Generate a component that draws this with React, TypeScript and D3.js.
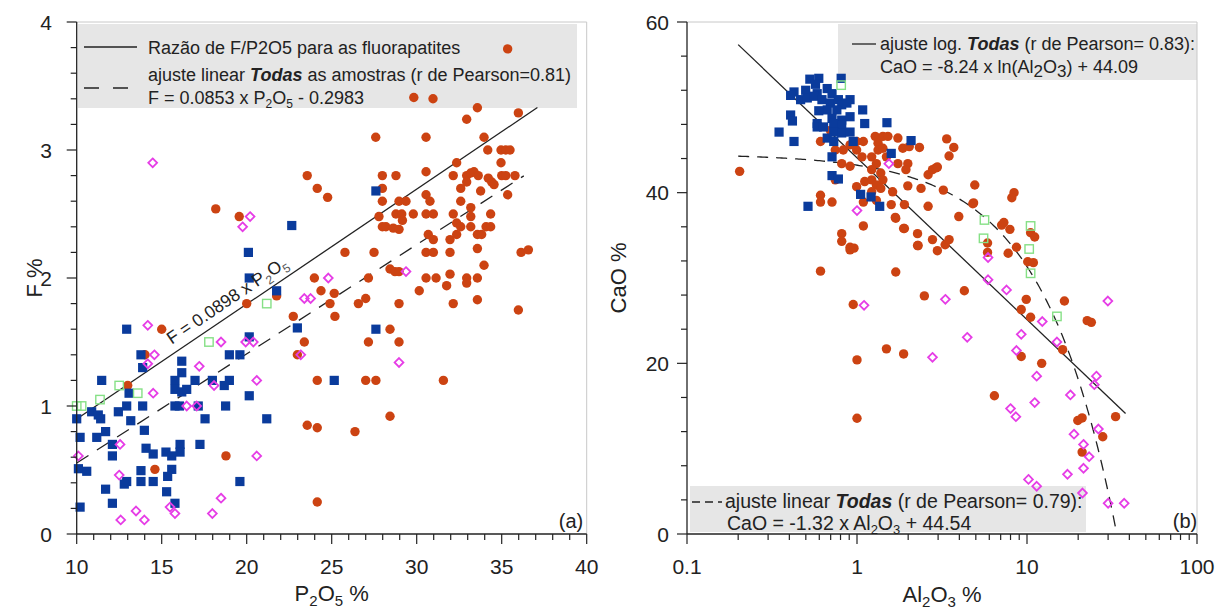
import React from "react";
import * as d3 from "d3";

// ---------- Panel (a): F % vs P2O5 % ----------
const aBlue: [number, number][] = [
  [12.94,1.60],[13.78,1.40],[13.88,1.30],[11.47,1.20],[16.18,1.35],[16.18,1.26],[15.78,1.20],[15.78,1.13],
  [16.18,1.11],[16.47,1.13],[16.96,1.20],[17.98,1.20],[18.98,1.20],[18.68,1.16],[18.98,1.40],[19.6,1.40],
  [20.15,1.54],[22.98,1.61],[10.0,0.90],[10.88,0.955],[11.27,0.93],[11.41,0.90],[10.2,0.755],[11.18,0.755],
  [11.7,0.80],[12.45,0.955],[12.94,1.00],[13.08,1.10],[13.18,0.885],[13.88,1.00],[13.98,0.81],[14.08,0.67],
  [14.5,0.625],[12.1,0.70],[12.1,0.61],[10.1,0.51],[10.59,0.49],[13.78,0.495],[13.78,0.41],[12.94,0.41],
  [12.8,0.39],[14.5,0.41],[11.7,0.35],[12.1,0.24],[10.2,0.21],[15.25,0.64],[15.59,0.61],[16.08,0.70],
  [16.08,0.64],[15.59,0.505],[15.35,0.45],[15.29,0.33],[15.78,0.24],[15.78,1.00],[16.04,1.00],[17.25,0.70],
  [17.55,0.90],[18.76,1.00],[19.6,0.41],[20.15,1.08],[21.18,0.90],[17.15,1.00],[20.1,2.20],[20.15,2.00],
  [21.76,1.90],[22.65,2.41],[27.6,2.68],[27.6,1.60],[25.15,1.20]
];
const aGreen: [number, number][] = [
  [10.0,1.00],[10.29,1.00],[11.37,1.05],[12.5,1.16],[13.59,1.10],[17.78,1.50],[21.18,1.80]
];
const aMagenta: [number, number][] = [
  [14.47,2.90],[19.76,2.40],[20.2,2.48],[14.18,1.63],[14.57,1.40],[14.18,1.33],[14.5,1.10],[18.49,1.50],
  [19.94,1.50],[20.39,1.50],[17.21,1.31],[18.08,1.16],[20.59,1.20],[16.47,1.00],[17.06,1.00],[10.1,0.61],
  [12.55,0.70],[20.59,0.61],[12.5,0.46],[18.49,0.28],[13.49,0.18],[13.98,0.11],[12.59,0.11],[15.49,0.21],
  [15.78,0.16],[17.98,0.16],[23.18,1.40],[23.39,1.84],[23.76,1.84],[24.8,2.0],[29.37,2.05],[28.96,1.34]
];
const aOrange: [number, number][] = [
  [15.0,1.60],[14.02,1.40],[13.0,1.16],[14.6,0.505],[18.78,0.61],[22.74,1.70],[23.39,1.50],[22.98,1.40],
  [24.15,1.20],[23.56,0.85],[24.15,0.83],[24.15,0.25],[20.0,1.80],[24.9,1.80],[25.19,1.70],
  [18.18,2.54],[19.56,2.48],[23.56,2.80],[24.15,2.70],[24.76,2.63],[23.98,2.0],[24.37,1.90],[25.15,1.88],[21.76,1.86],
  [33.57,3.33],[32.94,3.24],[35.98,3.29],[27.59,3.10],[30.55,3.10],[33.96,3.10],[34.18,3.0],[34.96,3.0],
  [35.24,3.0],[35.49,3.0],[34.96,2.90],[32.35,2.90],[27.98,2.80],[28.78,2.80],[30.55,2.83],[32.15,2.80],
  [32.94,2.80],[33.18,2.82],[33.37,2.83],[33.62,2.80],[34.21,2.78],[34.41,2.75],[34.55,2.73],[35.0,2.80],
  [35.24,2.80],[35.78,2.80],[32.94,2.75],[32.59,2.70],[33.76,2.68],[35.35,2.65],[27.98,2.70],[27.98,2.60],
  [28.96,2.60],[29.37,2.60],[30.55,2.65],[30.78,2.60],[32.59,2.60],[27.78,2.48],[28.78,2.50],[29.12,2.50],
  [29.8,2.50],[30.55,2.50],[30.98,2.50],[32.15,2.50],[33.18,2.55],[33.18,2.48],[34.35,2.50],[29.16,2.45],
  [27.98,2.40],[28.19,2.40],[28.62,2.39],[28.96,2.38],[32.35,2.43],[32.59,2.40],[33.18,2.40],[34.08,2.40],
  [34.35,2.40],[30.68,2.34],[30.98,2.30],[32.35,2.34],[31.96,2.30],[33.57,2.34],[33.82,2.34],[33.57,2.23],
  [25.78,2.20],[27.49,2.20],[30.55,2.20],[30.98,2.20],[31.96,2.20],[36.14,2.20],[36.57,2.22],[33.96,2.10],
  [28.43,2.07],[28.72,2.05],[28.96,2.05],[31.96,2.03],[27.16,2.0],[30.55,2.0],[31.14,2.0],[32.94,2.0],
  [33.57,2.0],[31.76,1.94],[32.94,1.96],[30.15,1.90],[27.0,1.84],[26.57,1.80],[28.96,1.80],[32.15,1.80],
  [33.57,1.83],[35.98,1.75],[28.43,1.60],[27.16,1.50],[28.96,1.50],[27.0,1.20],[27.6,1.20],[31.57,1.20],
  [26.37,0.80],[28.43,0.92],[35.35,3.79],[29.83,3.41],[30.96,3.40]
];

// ---------- Panel (b): CaO % vs Al2O3 % ----------
const bBlue: [number, number][] = [
  [0.807,53.4],[0.528,53.3],[0.596,53.4],[0.57,52.7],[0.426,51.8],[0.499,52.0],[0.583,51.6],[0.668,52.2],
  [0.713,51.6],[0.407,51.4],[0.466,50.9],[0.51,51.1],[0.557,51.3],[0.622,50.9],[0.697,50.5],[0.777,50.9],
  [0.91,50.9],[0.813,50.3],[0.872,50.5],[0.668,49.7],[0.761,49.7],[0.596,49.6],[1.08,49.7],[0.407,49.1],
  [0.417,48.4],[0.713,48.7],[0.813,48.5],[0.91,48.9],[0.583,48.1],[0.73,48.1],[0.813,47.9],[1.11,48.1],
  [1.5,48.2],[0.348,47.1],[0.583,47.7],[0.636,47.7],[0.73,47.1],[0.813,47.0],[0.91,47.1],[0.668,46.4],
  [0.73,46.0],[0.426,46.0],[0.95,46.0],[2.08,46.1],[1.59,44.6],[0.713,44.2],[0.713,42.0],[0.777,41.6],
  [1.05,39.8],[1.21,39.5],[1.36,38.4],[0.515,38.4]
];
const bGreen: [number, number][] = [
  [0.807,52.6],[5.62,36.8],[5.55,34.65],[10.5,36.1],[10.3,33.4],[10.5,30.55],[15.0,25.5]
];
const bMagenta: [number, number][] = [
  [1.54,43.4],[1.0,37.9],[5.9,32.4],[5.9,29.8],[7.58,28.6],[3.31,27.5],[1.1,26.8],[4.45,23.05],
  [2.78,20.7],[12.3,24.9],[9.25,23.4],[8.67,21.5],[29.9,27.3],[15,22.5],[25.6,18.5],[24.9,17.5],
  [11.4,18.5],[18.0,16.3],[11.1,15.4],[8.0,14.7],[8.6,13.75],[18.9,11.7],[26.3,12.3],[21.5,10.5],
  [23.2,9.06],[21.5,7.7],[17.3,7.0],[10.2,6.4],[11.4,5.6],[21.2,4.8],[30.0,3.6],[37.3,3.6]
];
const bOrange: [number, number][] = [
  [0.204,42.5],[0.61,46.0],[0.697,47.3],[0.745,45.0],[0.83,45.0],[0.91,45.6],[0.995,46.0],[1.09,46.0],
  [0.995,45.0],[1.07,44.2],[1.28,46.6],[1.33,45.8],[1.42,46.6],[1.52,46.6],[1.33,45.0],[1.42,45.2],
  [1.49,44.2],[1.22,44.2],[1.3,43.4],[1.74,46.4],[1.86,45.2],[2.03,45.4],[2.33,45.3],[1.74,43.4],
  [1.99,43.4],[1.94,42.7],[0.813,43.4],[0.91,43.1],[1.22,42.7],[1.38,42.3],[0.995,40.7],[1.11,41.3],
  [1.22,41.5],[1.3,40.9],[1.42,41.5],[1.38,40.5],[1.22,40.1],[1.62,40.1],[1.99,40.8],[2.38,40.5],
  [2.62,42.1],[2.78,42.7],[2.91,42.9],[0.745,41.5],[0.61,39.7],[0.61,38.9],[0.713,38.9],[1.09,38.9],
  [1.3,39.1],[1.59,38.6],[1.9,38.6],[2.62,38.4],[1.69,37.0],[1.09,36.1],[1.9,35.8],[2.27,35.2],
  [2.78,34.5],[0.813,35.2],[0.813,34.3],[0.91,33.6],[2.27,33.8],[2.97,33.2],
  [3.37,46.3],[3.71,45.3],[3.48,44.3],[2.97,43.0],[4.93,40.9],[3.22,40.3],[4.85,38.8],[8.39,40.0],[8.14,39.4],
  [1.68,37.1],[1.88,35.8],[2.29,33.8],[3.3,33.9],[3.48,34.5],[3.97,37.2],[4.8,38.7],[1.69,30.7],
  [0.95,26.9],[2.49,27.9],[4.28,28.5],[1.49,21.7],[1.88,21.1],[1.0,20.4],[1.0,13.56],[6.43,16.2],
  [7.09,36.2],[7.31,36.5],[7.93,35.7],[5.86,34.1],[5.86,33.0],[7.75,32.9],[8.67,33.6],[10.5,35.3],
  [11.1,34.8],[10.1,31.9],[10.9,31.8],[9.9,27.5],[9.25,26.3],[10.5,25.4],[16.6,27.3],[22.6,25.0],
  [23.9,24.8],[9.25,20.8],[12.2,20.0],[16.2,21.6],[19.9,13.3],[21.1,13.6],[27.9,11.4],[33.2,13.75],
  [21.1,9.6],[0.61,30.8],[0.91,33.3],[0.96,33.5]
];

// Tick values
const aXTicks = [10, 15, 20, 25, 30, 35, 40];
const aYTicks = [0, 1, 2, 3, 4];
const bXTicks = [0.1, 1, 10, 100];
const bXTickLabels = ["0.1", "1", "10", "100"];
const bYTicks = [0, 20, 40, 60];

const FONT = "'Liberation Sans', Arial, Helvetica, sans-serif";
const C_BLUE = "#0a3b9c";
const C_ORANGE = "#cc4312";
const C_MAG = "#e63de6";
const C_GREEN = "#86e086";

type Sc = (v: number) => number;

function Markers({ data, x, y, kind }: { data: [number, number][]; x: Sc; y: Sc; kind: string }) {
  return (
    <g>
      {data.map((d, i) => {
        const cx = x(d[0]);
        const cy = y(d[1]);
        if (kind === "circle") return <circle key={i} cx={cx} cy={cy} r={4.7} fill={C_ORANGE} />;
        if (kind === "square")
          return <rect key={i} x={cx - 4.6} y={cy - 4.6} width={9.2} height={9.2} fill={C_BLUE} />;
        if (kind === "diamond")
          return (
            <path
              key={i}
              d={`M${cx},${cy - 4.4}L${cx + 4.4},${cy}L${cx},${cy + 4.4}L${cx - 4.4},${cy}Z`}
              fill="none"
              stroke={C_MAG}
              strokeWidth={1.8}
            />
          );
        return (
          <rect key={i} x={cx - 4.2} y={cy - 4.2} width={8.4} height={8.4} fill="none" stroke={C_GREEN} strokeWidth={1.4} />
        );
      })}
    </g>
  );
}

export default function App() {
  // Panel a scales
  const xA = d3.scaleLinear().domain([10, 40]).range([76.7, 586.7]);
  const yA = d3.scaleLinear().domain([0, 4]).range([534, 22]);
  // Panel b scales
  const xB = d3.scaleLog().domain([0.1, 100]).range([687, 1197]);
  const yB = d3.scaleLinear().domain([0, 60]).range([534, 22]);

  const lineA = d3.line<number>().x((v) => xA(v)).y((v) => yA(0.0898 * v));
  const lineA2 = d3.line<number>().x((v) => xA(v)).y((v) => yA(0.0853 * v - 0.2983));
  const lineB = d3.line<number>().x((v) => xB(v)).y((v) => yB(-8.24 * Math.log(v) + 44.09));
  const lineB2 = d3.line<number>().x((v) => xB(v)).y((v) => yB(-1.32 * v + 44.54));

  const bLinX = d3.range(0, 201).map((i) => 0.2 * Math.pow(33.74 / 0.2, i / 200));

  const aXMinor = d3.range(10, 40.5, 1);
  const aYMinor = d3.range(0, 4.01, 0.2);
  const bYMinor = d3.range(0, 61, 4);
  const bXMinor: number[] = [];
  [0.1, 1, 10].forEach((dec) => {
    for (let k = 1; k <= 9; k++) bXMinor.push(dec * k);
  });
  bXMinor.push(100);

  const angle = (Math.atan2(yA(0.0898 * 20) - yA(0.0898 * 10), xA(20) - xA(10)) * 180) / Math.PI;

  const tickFs = 21;
  const legFs = 18;
  const legFsB = 19.5;

  return (
    <svg
      width={1217}
      height={610}
      style={{ position: "absolute", left: 0, top: 0, background: "#fff" }}
      fontFamily={FONT}
    >
      <rect x={0} y={0} width={1217} height={610} fill="#fff" />

      {/* ================= Panel (a) ================= */}
      <g>
        {/* legend box */}
        <rect x={78} y={24} width={499} height={84} fill="#e6e6e6" />
        {/* frame */}
        <line x1={xA(10)} y1={22} x2={xA(40)} y2={22} stroke="#c8c8c8" strokeWidth={1} />
        <line x1={xA(40)} y1={22} x2={xA(40)} y2={534} stroke="#c8c8c8" strokeWidth={1} />

        {/* fit lines */}
        <path d={lineA([10, 37.1]) || ""} fill="none" stroke="#222" strokeWidth={1.3} />
        <path d={lineA2([10, 36.3]) || ""} fill="none" stroke="#222" strokeWidth={1.3} strokeDasharray="14 10" />

        <Markers data={aOrange} x={xA} y={yA} kind="circle" />
        <Markers data={aBlue} x={xA} y={yA} kind="square" />
        <Markers data={aMagenta} x={xA} y={yA} kind="diamond" />
        <Markers data={aGreen} x={xA} y={yA} kind="green" />

        {/* rotated annotation */}
        <text
          transform={`translate(${xA(15.59)},${yA(0.0898 * 15.59) - 10}) rotate(${angle})`}
          fontSize={17.5}
          fill="#222"
        >
          F = 0.0898 x P<tspan fontSize={12} dy={5} fill="#555">2</tspan>
          <tspan dy={-5}>O</tspan>
          <tspan fontSize={12} dy={5} fill="#555">5</tspan>
        </text>

        {/* legend content */}
        <line x1={84} y1={47} x2={137} y2={47} stroke="#222" strokeWidth={1.3} />
        <line x1={84} y1={88} x2={137} y2={88} stroke="#222" strokeWidth={1.3} strokeDasharray="15 14" />
        <text x={148} y={54} fontSize={legFs} fill="#222">
          Razão de F/P2O5 para as fluorapatites
        </text>
        <text x={148} y={81} fontSize={legFs} fill="#222">
          ajuste linear <tspan fontWeight="bold" fontStyle="italic">Todas</tspan> as amostras (r de Pearson=0.81)
        </text>
        <text x={148} y={104} fontSize={legFs} fill="#222">
          F = 0.0853 x P<tspan fontSize={12} dy={4}>2</tspan>
          <tspan dy={-4}>O</tspan>
          <tspan fontSize={12} dy={4}>5</tspan>
          <tspan dy={-4}> - 0.2983</tspan>
        </text>

        {/* axes */}
        <line x1={xA(10)} y1={22} x2={xA(10)} y2={534} stroke="#222" strokeWidth={1.3} />
        <line x1={xA(10)} y1={534} x2={xA(40)} y2={534} stroke="#222" strokeWidth={1.3} />
        {aXMinor.map((v) => (
          <line key={"axm" + v} x1={xA(v)} x2={xA(v)} y1={534} y2={v % 5 === 0 ? 544 : 540} stroke="#222" strokeWidth={1.2} />
        ))}
        {aYMinor.map((v, i) => (
          <line key={"aym" + i} x1={xA(10)} x2={i % 5 === 0 ? xA(10) - 10 : xA(10) - 6} y1={yA(v)} y2={yA(v)} stroke="#222" strokeWidth={1.2} />
        ))}
        {aXTicks.map((v) => (
          <text key={"axt" + v} x={xA(v)} y={574} fontSize={tickFs} textAnchor="middle" fill="#222">
            {v}
          </text>
        ))}
        {aYTicks.map((v) => (
          <text key={"ayt" + v} x={52} y={yA(v) + 7.5} fontSize={tickFs} textAnchor="end" fill="#222">
            {v}
          </text>
        ))}
        <text x={(xA(10) + xA(40)) / 2} y={601} fontSize={22} textAnchor="middle" fill="#222">
          P<tspan fontSize={15} dy={5}>2</tspan>
          <tspan dy={-5}>O</tspan>
          <tspan fontSize={15} dy={5}>5</tspan>
          <tspan dy={-5}> %</tspan>
        </text>
        <text transform={`translate(42,${yA(2)}) rotate(-90)`} fontSize={22} textAnchor="middle" fill="#222">
          F %
        </text>
        <text x={571} y={528} fontSize={20} textAnchor="middle" fill="#222">
          (a)
        </text>
      </g>

      {/* ================= Panel (b) ================= */}
      <g>
        <rect x={838} y={24} width={359} height={56} fill="#e6e6e6" />
        <rect x={690} y={486} width={396} height={46} fill="#e6e6e6" />
        <line x1={xB(0.1)} y1={22} x2={xB(100)} y2={22} stroke="#c8c8c8" strokeWidth={1} />
        <line x1={xB(100)} y1={22} x2={xB(100)} y2={534} stroke="#c8c8c8" strokeWidth={1} />

        <path d={lineB([0.2, 38]) || ""} fill="none" stroke="#222" strokeWidth={1.3} />
        <path d={lineB2(bLinX) || ""} fill="none" stroke="#222" strokeWidth={1.3} strokeDasharray="11 8" />

        <Markers data={bOrange} x={xB} y={yB} kind="circle" />
        <Markers data={bBlue} x={xB} y={yB} kind="square" />
        <Markers data={bMagenta} x={xB} y={yB} kind="diamond" />
        <Markers data={bGreen} x={xB} y={yB} kind="green" />

        {/* legend top */}
        <line x1={852} y1={44} x2={876} y2={44} stroke="#222" strokeWidth={1.3} />
        <text x={880} y={50} fontSize={legFs} fill="#222">
          ajuste log. <tspan fontWeight="bold" fontStyle="italic">Todas</tspan> (r de Pearson= 0.83):
        </text>
        <text x={880} y={73} fontSize={legFs} fill="#222">
          CaO = -8.24 x ln(Al<tspan fontSize={17} dy={4}>2</tspan>
          <tspan dy={-4}>O</tspan>
          <tspan fontSize={17} dy={4}>3</tspan>
          <tspan dy={-4}>) + 44.09</tspan>
        </text>
        {/* legend bottom */}
        <line x1={692} y1={502} x2={722} y2={502} stroke="#222" strokeWidth={1.3} strokeDasharray="8 5" />
        <text x={725} y={508} fontSize={legFsB} fill="#222">
          ajuste linear <tspan fontWeight="bold" fontStyle="italic">Todas</tspan> (r de Pearson= 0.79):
        </text>
        <text x={727} y={530} fontSize={legFsB} fill="#222">
          CaO = -1.32 x Al<tspan fontSize={13} dy={4}>2</tspan>
          <tspan dy={-4}>O</tspan>
          <tspan fontSize={13} dy={4}>3</tspan>
          <tspan dy={-4}> + 44.54</tspan>
        </text>

        {/* axes */}
        <line x1={xB(0.1)} y1={22} x2={xB(0.1)} y2={534} stroke="#222" strokeWidth={1.3} />
        <line x1={xB(0.1)} y1={534} x2={xB(100)} y2={534} stroke="#222" strokeWidth={1.3} />
        {bXMinor.map((v, i) => {
          const major = i % 9 === 0 || v === 100;
          return (
            <line key={"bxm" + i} x1={xB(v)} x2={xB(v)} y1={534} y2={major ? 544 : 540} stroke="#222" strokeWidth={1.2} />
          );
        })}
        {bYMinor.map((v) => (
          <line key={"bym" + v} x1={xB(0.1)} x2={v % 20 === 0 ? xB(0.1) - 10 : xB(0.1) - 6} y1={yB(v)} y2={yB(v)} stroke="#222" strokeWidth={1.2} />
        ))}
        {bXTicks.map((v, i) => (
          <text key={"bxt" + i} x={xB(v)} y={574} fontSize={tickFs} textAnchor="middle" fill="#222">
            {bXTickLabels[i]}
          </text>
        ))}
        {bYTicks.map((v) => (
          <text key={"byt" + v} x={669} y={yB(v) + 7.5} fontSize={tickFs} textAnchor="end" fill="#222">
            {v}
          </text>
        ))}
        <text x={(xB(0.1) + xB(100)) / 2} y={602} fontSize={22} textAnchor="middle" fill="#222">
          Al<tspan fontSize={15} dy={5}>2</tspan>
          <tspan dy={-5}>O</tspan>
          <tspan fontSize={15} dy={5}>3</tspan>
          <tspan dy={-5}> %</tspan>
        </text>
        <text transform={`translate(626,${yB(30)}) rotate(-90)`} fontSize={22} textAnchor="middle" fill="#222">
          CaO %
        </text>
        <text x={1185} y={528} fontSize={20} textAnchor="middle" fill="#222">
          (b)
        </text>
      </g>
    </svg>
  );
}
